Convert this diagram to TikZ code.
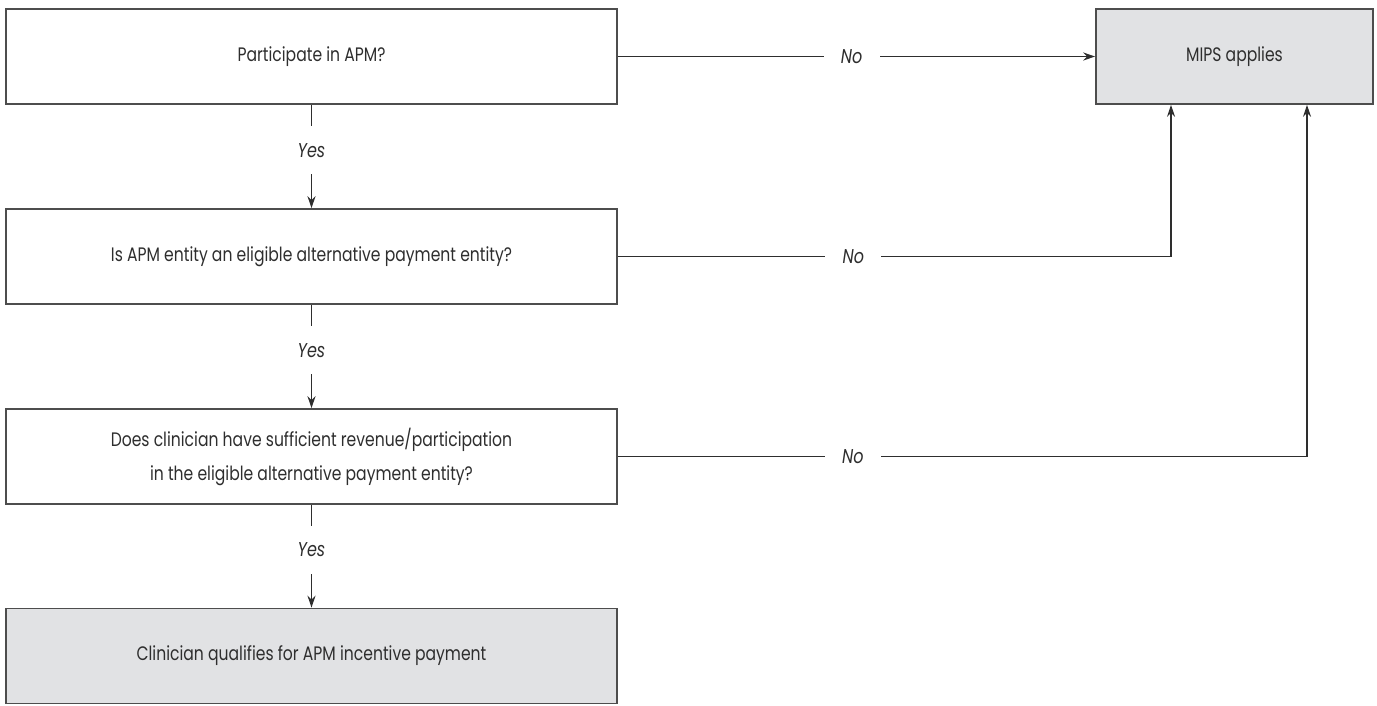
\documentclass[tikz,border=0pt]{standalone}
\usepackage{fontspec}
\setmainfont{Poppins}[FakeStretch=0.8]
\usetikzlibrary{arrows.meta}
\definecolor{boxfill}{HTML}{E1E2E4}
\definecolor{ink}{HTML}{2E2E2E}
\begin{document}
\begin{tikzpicture}[x=1pt,y=-1pt,
  box/.style={draw=ink!85, line width=1.6pt, minimum width=611pt, minimum height=95pt, inner sep=0pt, align=center, text=ink, font=\fontsize{19.5}{34}\selectfont},
  endbox/.style={box, fill=boxfill},
  conn/.style={draw=ink, line width=1.3pt},
  arr/.style={conn, -{Stealth[length=12pt,width=8pt]}},
  lab/.style={fill=white, text=ink, inner sep=0pt, font=\fontsize{20}{22}\selectfont\itshape},
  ylab/.style={lab, minimum height=48pt},
  nlab/.style={lab, minimum width=56pt}]
\useasboundingbox (0,0) rectangle (1377,705);
\node[box] (b1) at (311.5,56.5) {Participate in APM?};
\node[box] (b2) at (311.5,256.5) {Is APM entity an eligible alternative payment entity?};
\node[box] (b3) at (311.5,456.5) {Does clinician have sufficient revenue/participation\\in the eligible alternative payment entity?};
\node[endbox] (b4) at (311.5,656) {Clinician qualifies for APM incentive payment};
\node[endbox, minimum width=277pt] (mips) at (1234.5,56.5) {MIPS applies};
\coordinate (c2) at (1171,256.5);
\coordinate (c3) at (1307,456.5);
\draw[arr] (b1) -- node[ylab,pos=0.44]{Yes} (b2);
\draw[arr] (b2) -- node[ylab,pos=0.44]{Yes} (b3);
\draw[arr] (b3) -- node[ylab,pos=0.44]{Yes} (b4);
\draw[arr] (b1) -- node[nlab,pos=0.49]{No} (mips);
\draw[arr] (b2.east) -- node[nlab,pos=0.426]{No} (c2) -- (c2 |- mips.south);
\draw[arr] (b3.east) -- node[nlab,pos=0.341]{No} (c3) -- (c3 |- mips.south);
\end{tikzpicture}
\end{document}
